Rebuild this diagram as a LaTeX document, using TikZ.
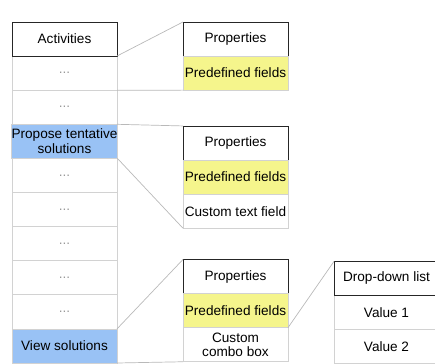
\documentclass[tikz,border=0pt]{standalone}
\usepackage{fontspec}
\setmainfont{Liberation Sans}
\usetikzlibrary{positioning}
\definecolor{solblue}{RGB}{153,194,245}
\definecolor{fieldyellow}{RGB}{245,245,140}
\tikzset{
	cell/.style={draw=gray!35, line width=0.8pt, minimum width=105pt, minimum height=34.1pt,
		inner sep=0pt, outer sep=0pt, align=center, font=\fontsize{13.6}{14.5}\selectfont},
	headcell/.style={cell, draw=black!85},
	dotcell/.style={cell, text=gray!80},
	link/.style={draw=gray!55, line width=0.7pt}
}

\begin{document}
\begin{tikzpicture}[x=1pt,y=-1pt]
		\clip (0,0) rectangle (435,363);
		% activity list
		\foreach \i in {1,2,4,5,6,7,8} \node[dotcell] (act\i) at (64.5,{22+34.1*(\i+0.5)}){...};
		\node[cell,fill=solblue] (act3) at (64.5,{22+34.1*3.5}){Propose tentative\\solutions};
		\node[cell,fill=solblue] (act9) at (64.5,{22+34.1*9.5}){View solutions};
		\node[headcell] (act0) at (64.5,39){Activities};
		% properties panels
		\node[headcell] (p1head) at (235.5,39){Properties};
		\node[cell,fill=fieldyellow,below=0pt of p1head] (p1pre){Predefined fields};
		\node[headcell] (p2head) at (235.5,143){Properties};
		\node[cell,fill=fieldyellow,below=0pt of p2head] (p2pre){Predefined fields};
		\node[cell,below=0pt of p2pre] (p2cust){Custom text field};
		\node[headcell] (p3head) at (235.5,276.5){Properties};
		\node[cell,fill=fieldyellow,below=0pt of p3head] (p3pre){Predefined fields};
		\node[cell,below=0pt of p3pre] (p3cust){Custom\\combo box};
		% drop-down list
		\node[cell] (val1) at (386.5,312.5){Value 1};
		\node[cell,below=0pt of val1] (val2){Value 2};
		\node[headcell,above=0pt of val1] (list){Drop-down list};
		% connectors
		\draw[link] (act0.south east) -- (p1head.north west);
		\draw[link] (act1.south east) -- (p1pre.south west);
		\draw[link] (act2.south east) -- (p2head.north west);
		\draw[link] (act3.south east) -- (p2cust.south west);
		\draw[link] (act8.south east) -- (p3head.north west);
		\draw[link] (act9.south east) -- (p3cust.south west);
		\draw[link] (p3pre.south east) -- (list.north west);
	\end{tikzpicture}
\end{document}
